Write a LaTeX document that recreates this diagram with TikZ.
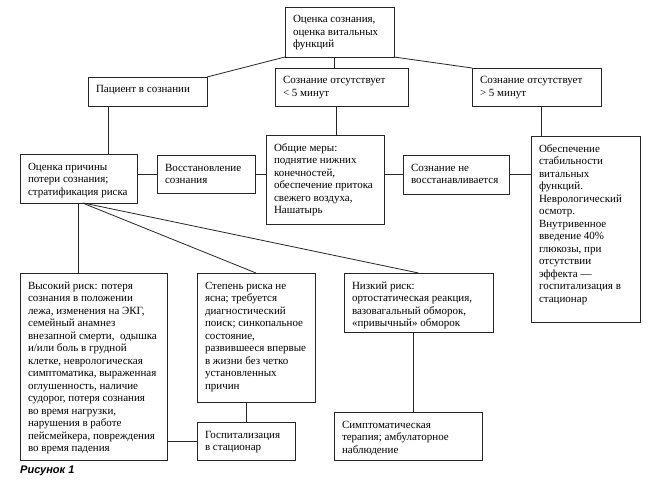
\documentclass[tikz,border=0pt]{standalone}
\usepackage{fontspec}
\setmainfont{Liberation Serif}
\newfontfamily\capfont{Liberation Sans}
\newlength\bxx \setlength\bxx{8pt}
\newlength\bxy \setlength\bxy{4pt}
\newcommand\firststrut{\rule{0pt}{12pt}}
\tikzset{
  bx/.style={draw=black!85, line width=0.8pt, anchor=north west, inner xsep=\bxx, inner ysep=\bxy, outer sep=0pt,
    font=\fontsize{11}{12.5}\selectfont},
  link/.style={draw=black!85, line width=0.8pt}
}
\newcommand\myboxA[6]{%
  \node[bx] (#1) at (#2,#3) {\begin{minipage}[c][\dimexpr #5pt-#3pt-2\bxy\relax][t]{\dimexpr #4pt-#2pt-2\bxx\relax}\raggedright\firststrut #6\end{minipage}};}
\begin{document}
\begin{tikzpicture}[x=1pt,y=-1pt]
\useasboundingbox[fill=white] (0,0) rectangle (650,492);
\myboxA{top}{285}{7}{394}{57}{Оценка сознания,\\оценка витальных\\функций}
\myboxA{patient}{88}{77}{207}{106}{Пациент в сознании}
\myboxA{less}{275}{68}{408}{106}{Сознание отсутствует\\< 5 минут}
\myboxA{more}{472}{68}{601}{106}{Сознание отсутствует\\> 5 минут}
\myboxA{ocenka}{20}{154}{137}{203}{Оценка причины\\потери сознания;\\стратификация риска}
\myboxA{vosst}{157}{155}{255}{193}{Восстановление\\сознания}
\myboxA{obshie}{266}{135}{384}{224}{Общие меры:\\поднятие нижних\\конечностей,\\обеспечение притока\\свежего воздуха,\\Нашатырь}
\myboxA{nevosst}{403}{155}{509}{194}{Сознание не\\восстанавливается}
\myboxA{obesp}{531}{136}{640}{322}{Обеспечение\\стабильности\\витальных\\функций.\\Неврологический\\осмотр.\\Внутривенное\\введение 40\%\\глюкозы, при\\отсутствии\\эффекта —\\госпитализация в\\стационар}
\myboxA{vys}{20}{273}{167}{460}{Высокий риск: потеря\\сознания в положении\\лежа, изменения на ЭКГ,\\семейный анамнез\\внезапной смерти,~ одышка\\и/или боль в грудной\\клетке, неврологическая\\симптоматика, выраженная\\оглушенность, наличие\\судорог, потеря сознания\\во время нагрузки,\\нарушения в работе\\пейсмейкера, повреждения\\во время падения}
\myboxA{stepen}{197}{273}{315}{402}{Степень риска не\\ясна; требуется\\диагностический\\поиск; синкопальное\\состояние,\\развившееся впервые\\в жизни без четко\\установленных\\причин}
\myboxA{gosp}{197}{422}{295}{460}{Госпитализация\\в стационар}
\myboxA{nizk}{344}{273}{493}{332}{Низкий риск:\\ортостатическая реакция,\\вазовагальный обморок,\\«привычный» обморок}
\myboxA{simpt}{334}{412}{482}{460}{Симптоматическая\\терапия; амбулаторное\\наблюдение}
\node[anchor=west, inner sep=0pt, font=\capfont\bfseries\itshape\fontsize{11}{13}\selectfont] (cap) at (20,471) {Рисунок 1};
% connectors
\draw[link] (top.south west) -- (patient.north east);
\draw[link] ([xshift=-5pt]top.south) -- ([xshift=-5pt]top.south |- less.north);
\draw[link] (top.south east) -- (more.north west);
\draw[link] ([xshift=20pt]patient.south west) -- ([xshift=20pt]patient.south west |- ocenka.north);
\draw[link] ([xshift=-5pt]less.south) -- ([xshift=-5pt]less.south |- obshie.north);
\draw[link] ([xshift=4.5pt]more.south) -- ([xshift=4.5pt]more.south |- obesp.north);
\draw[link] (vosst.west) -- (vosst.west -| ocenka.east);
\draw[link] (vosst.east) -- (vosst.east -| obshie.west);
\draw[link] (nevosst.west) -- (nevosst.west -| obshie.east);
\draw[link] (nevosst.east) -- (nevosst.east -| obesp.west);
\draw[link] (ocenka.south) -- (ocenka.south |- vys.north);
\draw[link] ([xshift=4pt]ocenka.south) -- (stepen.north);
\draw[link] ([xshift=5pt]ocenka.south) -- (nizk.north);
\draw[link] (gosp.north) -- (gosp.north |- stepen.south);
\draw[link] (gosp.west) -- (gosp.west -| vys.east);
\draw[link] ([xshift=5pt]simpt.north) -- ([xshift=5pt]simpt.north |- nizk.south);
\end{tikzpicture}
\end{document}
